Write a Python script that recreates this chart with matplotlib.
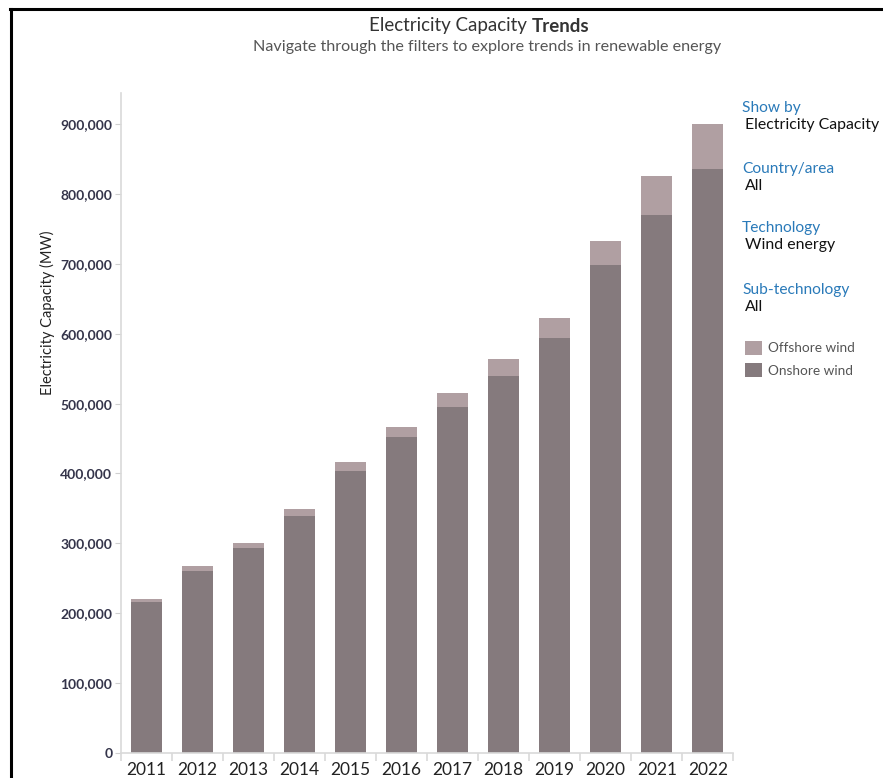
import matplotlib.pyplot as plt
import matplotlib.ticker as mticker
from matplotlib.lines import Line2D

plt.rcParams['font.family'] = ['Lato', 'DejaVu Sans']

years = ['2011', '2012', '2013', '2014', '2015', '2016',
         '2017', '2018', '2019', '2020', '2021', '2022']
onshore = [215500, 260500, 293000, 339000, 404000, 452000,
           495000, 539000, 593500, 698500, 770000, 836500]
offshore = [5000, 6500, 7500, 10500, 12500, 14500,
            20000, 25000, 29500, 34500, 56000, 63500]
yticks = [0, 100000, 200000, 300000, 400000, 500000,
          600000, 700000, 800000, 900000]

filters = [('Show by', 'Electricity Capacity'),
           ('Country/area', 'All'),
           ('Technology', 'Wind energy'),
           ('Sub-technology', 'All')]

ON_COL = '#857a7d'
OFF_COL = '#b09fa2'
W, H = 883, 778

fig = plt.figure(figsize=(W / 100, H / 100), dpi=100)
ax = fig.add_axes([120.7 / W, 1 - 752.7 / H, 612.6 / W, (752.7 - 93) / H])

x = list(range(len(years)))
b_on = ax.bar(x, onshore, width=0.61, color=ON_COL, label='Onshore wind')
b_off = ax.bar(x, offshore, width=0.61, bottom=onshore, color=OFF_COL,
               label='Offshore wind')

ax.set_xlim(-0.5, len(years) - 0.5)
ax.set_ylim(0, 945000)

for s in ['top', 'right']:
    ax.spines[s].set_visible(False)
for s in ['left', 'bottom']:
    ax.spines[s].set_color('#d9d9d9')
    ax.spines[s].set_linewidth(1.2)

ax.set_yticks(yticks)
ax.yaxis.set_major_formatter(mticker.StrMethodFormatter('{x:,.0f}'))
ax.tick_params(axis='y', length=4, color='#d0d0d0', labelsize=10,
               labelcolor='#34344a', pad=2)
for lb in ax.get_yticklabels():
    lb.set_fontweight('bold')

ax.set_xticks(x)
ax.set_xticklabels(years)
ax.set_xticks([i - 0.5 for i in range(len(years) + 1)], minor=True)
ax.tick_params(axis='x', which='major', length=0, labelsize=12.5,
               labelcolor='#222222', pad=7)
ax.tick_params(axis='x', which='minor', length=6, color='#d9d9d9', width=1.2)

fig.text(47 / W, 1 - 313 / H, 'Electricity Capacity (MW)', rotation=90,
         ha='center', va='center', fontsize=10.5, color='#222222')

# title in two parts, the last word bold
fig.text(532 / W, 1 - 26 / H, 'Electricity Capacity ', ha='right',
         va='center', fontsize=13.5, color='#333333')
fig.text(532 / W, 1 - 26 / H, 'Trends', ha='left', va='center',
         fontsize=13.5, fontweight='bold', color='#333333')
fig.text(487 / W, 1 - 47 / H,
         'Navigate through the filters to explore trends in renewable energy',
         ha='center', va='center', fontsize=11.6, color='#555555')

# filter panel on the right
ys = [108, 169, 228, 290]
for (head, val), yy in zip(filters, ys):
    fig.text(742 / W, 1 - yy / H, head, ha='left', va='center',
             fontsize=11.2, color='#2a7ab9')
    fig.text(745 / W, 1 - (yy + 17) / H, val, ha='left', va='center',
             fontsize=11.4, color='#111111')

fig.legend(handles=[b_off, b_on], labels=['Offshore wind', 'Onshore wind'],
           loc='upper left', bbox_to_anchor=(735 / W, 1 - 331 / H),
           frameon=False, fontsize=9.8, labelcolor='#555555',
           handlelength=1.25, handleheight=1.25, handletextpad=0.45,
           labelspacing=0.6, borderpad=0.2)

# black frame along the top and left edge
fig.add_artist(Line2D([11 / W, 11 / W], [0, 1 - 8.5 / H], color='black',
                      lw=2.2, transform=fig.transFigure))
fig.add_artist(Line2D([10 / W, 1], [1 - 8.5 / H, 1 - 8.5 / H],
                      color='black', lw=2.2, transform=fig.transFigure))

fig.savefig('out.png', dpi=100)
